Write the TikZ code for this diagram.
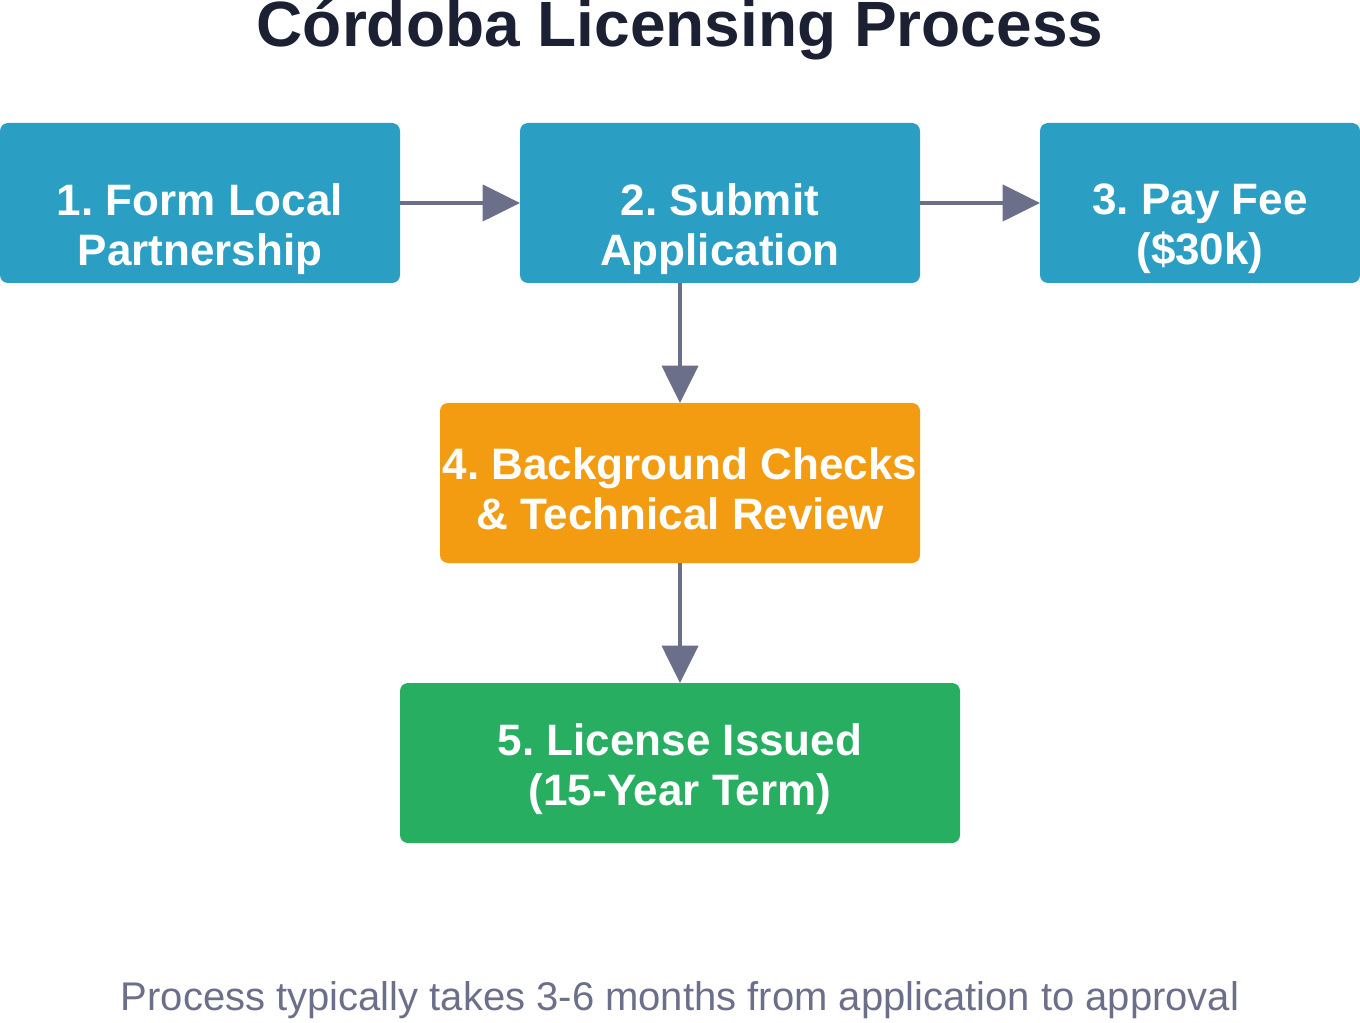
\documentclass[tikz,border=0pt]{standalone}
\usepackage{fontspec}
\setmainfont{Liberation Sans}
\frenchspacing
\usetikzlibrary{arrows.meta}
\definecolor{stepblue}{HTML}{2A9FC3}
\definecolor{steporange}{HTML}{F39C12}
\definecolor{stepgreen}{HTML}{27AE60}
\definecolor{arrowgray}{HTML}{6B6F8A}
\definecolor{titleink}{HTML}{1C2033}
\tikzset{
  stepbox/.style={rounded corners=6pt, text=white, align=center,
    font=\fontsize{33}{37.5}\selectfont\bfseries, inner sep=0pt},
  flow/.style={draw=arrowgray, line width=3pt,
    -{Triangle[length=28pt,width=27pt]}}
}
\begin{document}
\begin{tikzpicture}[x=0.75pt,y=-0.75pt]
  \useasboundingbox (0,0) rectangle (1360,1023);
  \node[font=\fontsize{48}{56}\selectfont\bfseries, text=titleink] (title) at (680,30) {Córdoba Licensing Process};
  % process steps
  \fill[stepblue, rounded corners=6pt] (0,123) rectangle (400,283);
  \node[stepbox] (form) at (200,229) {1. Form Local\\Partnership};
  \fill[stepblue, rounded corners=6pt] (520,123) rectangle (920,283);
  \node[stepbox] (submit) at (720,229) {2. Submit\\Application};
  \fill[stepblue, rounded corners=6pt] (1040,123) rectangle (1360,283);
  \node[stepbox] (fee) at (1200,229) {3. Pay Fee\\(\$30k)};
  \fill[steporange, rounded corners=6pt] (440,403) rectangle (920,563);
  \node[stepbox] (review) at (680,489) {4. Background Checks\\\& Technical Review};
  \fill[stepgreen, rounded corners=6pt] (400,683) rectangle (960,843);
  \node[stepbox] (issued) at (680,769) {5. License Issued\\(15-Year Term)};
  \coordinate (formE) at (400,203);
  \coordinate (submitW) at (520,203);
  \coordinate (submitE) at (920,203);
  \coordinate (feeW) at (1040,203);
  \coordinate (submitS) at (680,283);
  \coordinate (reviewN) at (680,403);
  \coordinate (reviewS) at (680,563);
  \coordinate (issuedN) at (680,683);
  \draw[flow] (formE) -- (submitW);
  \draw[flow] (submitE) -- (feeW);
  \draw[flow] (submitS) -- (reviewN);
  \draw[flow] (reviewS) -- (issuedN);
  \node[font=\fontsize{30}{34}\selectfont, text=arrowgray] (note) at (680,1000) {Process typically takes 3-6 months from application to approval};
\end{tikzpicture}
\end{document}
